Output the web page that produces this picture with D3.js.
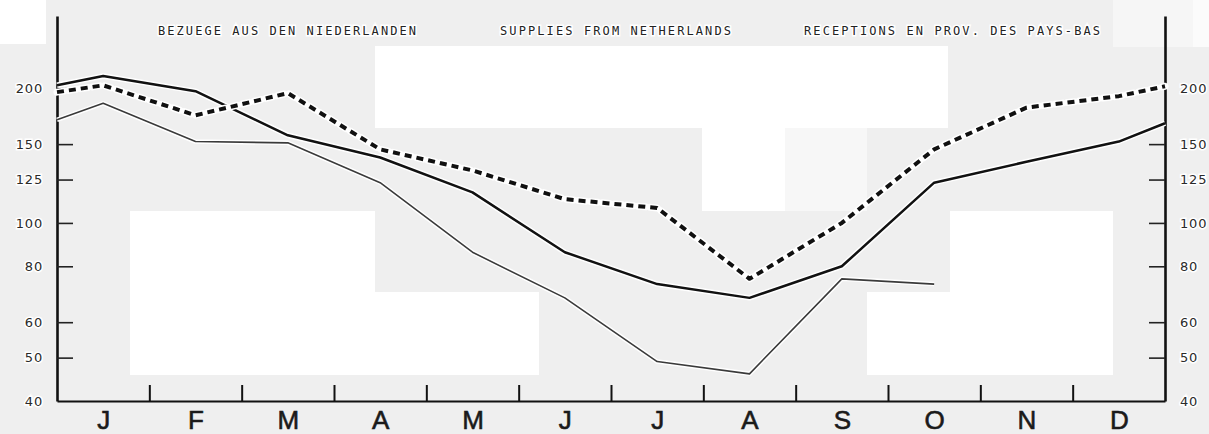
<!DOCTYPE html>
<html>
<head>
<meta charset="utf-8">
<script src="https://cdn.jsdelivr.net/npm/d3@7"></script>
<style>
  html, body { margin: 0; padding: 0; background: #efefef; }
  svg { display: block; }
</style>
</head>
<body>
<svg id="chart" width="1209" height="434"></svg>
<script>
// ---- data ----
const months = ["J","F","M","A","M","J","J","A","S","O","N","D"];
// time positions (month index): start of year, 12 months, end of year
const periods = [-0.5, 0, 1, 2, 3, 4, 5, 6, 7, 8, 9, 10, 11, 11.5];
const yTickValues = [40, 50, 60, 80, 100, 125, 150, 200];
const titles = ["BEZUEGE AUS DEN NIEDERLANDEN", "SUPPLIES FROM NETHERLANDS", "RECEPTIONS EN PROV. DES PAYS-BAS"];
// thick solid line
const seriesSolid = [203, 213, 197, 157, 140, 117, 86, 73, 68, 80, 123, 137, 152, 167];
// thin solid line (ends in October)
const seriesThin  = [170, 185, 152, 151, 123, 86, 68, 49, 46, 75, 73, null, null, null];
// dashed line
const seriesDash  = [196, 203, 174, 195, 146, 131, 113, 108, 75, 100, 146, 181, 192, 202];

// ---- layout ----
const svg = d3.select("#chart");

// scan-like background patches
const patches = [
  {x: 0,   y: 0,   w: 46,  h: 44,  c: "#ffffff"},
  {x: 375, y: 46,  w: 573, h: 82,  c: "#ffffff"},
  {x: 702, y: 128, w: 83,  h: 83,  c: "#ffffff"},
  {x: 785, y: 128, w: 82,  h: 83,  c: "#f7f7f7"},
  {x: 1113,y: 0,   w: 80,  h: 47,  c: "#f6f6f6"},
  {x: 1193,y: 0,   w: 16,  h: 47,  c: "#fbfbfb"},
  {x: 130, y: 211, w: 245, h: 164, c: "#ffffff"},
  {x: 375, y: 292, w: 164, h: 83,  c: "#ffffff"},
  {x: 867, y: 292, w: 83,  h: 83,  c: "#ffffff"},
  {x: 950, y: 211, w: 163, h: 164, c: "#ffffff"}
];
svg.append("g").selectAll("rect").data(patches).join("rect")
  .attr("x", d => d.x).attr("y", d => d.y).attr("width", d => d.w).attr("height", d => d.h)
  .attr("fill", d => d.c);

const x = d3.scaleLinear().domain([-0.5, 11.5]).range([57, 1165]);
const y = d3.scaleLog().domain([40, 290]).range([401, 16]);

const labelFont = "'DejaVu Sans', sans-serif";

// left axis
const gLeft = svg.append("g").attr("transform", `translate(${x(-0.5)},0)`)
  .call(d3.axisLeft(y).tickValues(yTickValues).tickFormat(d3.format("d"))
    .tickSizeInner(-16).tickSizeOuter(0).tickPadding(14));
// right axis
const gRight = svg.append("g").attr("transform", `translate(${x(11.5)},0)`)
  .call(d3.axisRight(y).tickValues(yTickValues).tickFormat(d3.format("d"))
    .tickSizeInner(-16).tickSizeOuter(0).tickPadding(15));

[gLeft, gRight].forEach(g => {
  g.select(".domain").attr("stroke", "#111").attr("stroke-width", 2.6);
  g.selectAll(".tick line").attr("stroke", "#222").attr("stroke-width", 1.6)
    .filter(d => d === 40).remove();
  g.selectAll(".tick text")
    .attr("font-family", labelFont).attr("font-size", 13).attr("letter-spacing", 0.8)
    .attr("fill", "#2a2a2a")
    .attr("stroke", "#ffffff").attr("stroke-width", 3).attr("paint-order", "stroke");
});

// bottom axis: month boundary ticks
const gBottom = svg.append("g").attr("transform", `translate(0,${y(40)})`)
  .call(d3.axisBottom(x).tickValues(d3.range(0.5, 11, 1)).tickFormat("")
    .tickSizeInner(-16).tickSizeOuter(0));
gBottom.select(".domain").attr("stroke", "#111").attr("stroke-width", 2.2);
gBottom.selectAll(".tick line").attr("stroke", "#111").attr("stroke-width", 2);

// month labels
const gMonths = svg.append("g").attr("transform", `translate(0,${y(40)})`)
  .call(d3.axisBottom(x).tickValues(d3.range(0, 12)).tickFormat(i => months[i])
    .tickSize(0).tickPadding(10));
gMonths.select(".domain").remove();
gMonths.selectAll(".tick text")
  .attr("font-family", "'Liberation Sans', Arial, sans-serif")
  .attr("font-size", 26).attr("fill", "#1a1a1a")
  .attr("stroke", "#1a1a1a").attr("stroke-width", 0.6);

// titles
const titleX = [158, 500, 804];
const titleLen = [258, 231, 296];
svg.append("g").selectAll("text").data(titles).join("text")
  .attr("x", (d, i) => titleX[i]).attr("y", 35)
  .attr("textLength", (d, i) => titleLen[i]).attr("lengthAdjust", "spacing")
  .attr("font-family", "'DejaVu Sans Mono', monospace").attr("font-size", 12)
  .attr("fill", "#222")
  .attr("stroke", "#ffffff").attr("stroke-width", 3).attr("paint-order", "stroke")
  .text(d => d);

// lines
const line = d3.line()
  .defined(d => d.v != null)
  .x(d => x(d.p)).y(d => y(d.v));
const toPts = arr => arr.map((v, i) => ({p: periods[i], v}));

const gLines = svg.append("g").attr("fill", "none").attr("stroke-linejoin", "round");

// halos
gLines.append("path").attr("d", line(toPts(seriesThin)))
  .attr("stroke", "#fff").attr("stroke-width", 4.5);
gLines.append("path").attr("d", line(toPts(seriesSolid)))
  .attr("stroke", "#fff").attr("stroke-width", 5.5);

gLines.append("path").attr("d", line(toPts(seriesThin)))
  .attr("stroke", "#3a3a3a").attr("stroke-width", 1.6);
gLines.append("path").attr("d", line(toPts(seriesSolid)))
  .attr("stroke", "#111").attr("stroke-width", 2.5);

gLines.append("path").attr("d", line(toPts(seriesDash)))
  .attr("stroke", "#fff").attr("stroke-width", 7)
  .attr("stroke-dasharray", "7,5").attr("stroke-linecap", "round");
gLines.append("path").attr("d", line(toPts(seriesDash)))
  .attr("stroke", "#111").attr("stroke-width", 4)
  .attr("stroke-dasharray", "7,5");
</script>
</body>
</html>
